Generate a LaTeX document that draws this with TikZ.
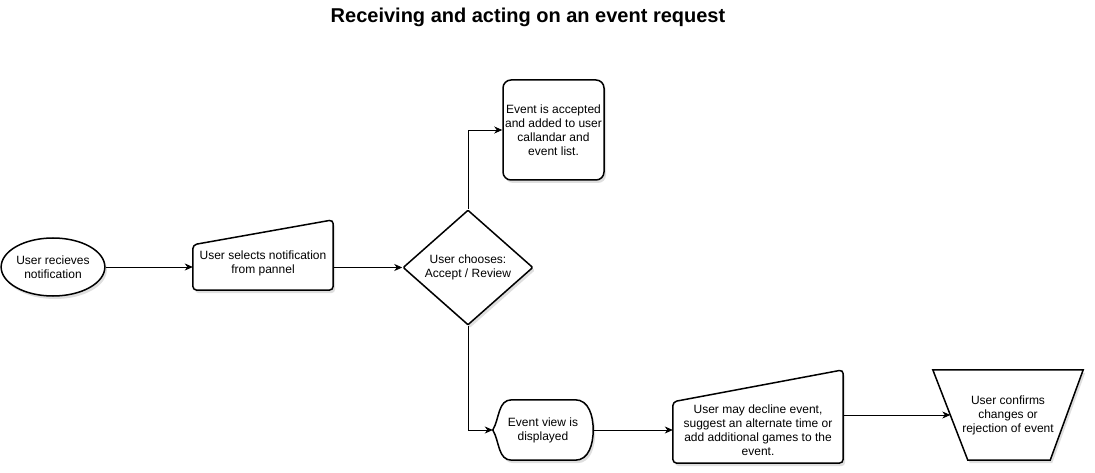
\documentclass[tikz,border=0pt]{standalone}
\usepackage{fontspec}
\setmainfont{Liberation Sans}
\usetikzlibrary{shapes.geometric,shadows,arrows.meta,backgrounds}

\begin{document}
\begin{tikzpicture}[x=1pt, y=-1pt,
    txt/.style={align=center, font=\fontsize{12}{14}\selectfont, inner sep=0pt},
    outline/.style={draw, line width=1.5pt, fill=white, rounded corners=4pt,
                drop shadow={opacity=0.25, shadow xshift=2pt, shadow yshift=-3pt}},
    arr/.style={-{Stealth[length=8pt,width=7pt,inset=2.5pt]}, line width=0.8pt},
]
\useasboundingbox (0,0) rectangle (1095,473);

\node[font=\bfseries\fontsize{20}{24}\selectfont] (title) at (528,17)
    {Receiving and acting on an event request};

% nodes
\node[txt, ellipse, outline, minimum width=101pt, minimum height=58pt] (recv) at (53,267)
    {User recieves\\notification};
\node[txt, minimum width=140pt, minimum height=54pt] (sel) at (263,263)
    {User selects notification\\from pannel};
\node[txt, diamond, outline, rounded corners=1pt, minimum width=130pt, minimum height=115pt] (choose) at (468,267.5)
    {User chooses:\\Accept / Review};
\node[txt, outline, rounded corners=8pt, minimum width=101pt, minimum height=100pt] (acc) at (553.5,130)
    {Event is accepted\\and added to user\\callandar and\\event list.};
\node[txt, minimum width=100pt, minimum height=60pt] (disp) at (543,430)
    {Event view is\\displayed};
\node[txt, minimum width=170pt, minimum height=66pt] (dec) at (758,430)
    {User may decline event,\\suggest an alternate time or\\add additional games to the\\event.};
\node[txt, minimum width=150pt, minimum height=90pt] (conf) at (1008,415)
    {User confirms\\changes or\\rejection of event};
\coordinate (confin) at ([xshift=17.5pt]conf.west);

% shapes behind the text
\begin{scope}[on background layer]
\fill[white] (0,0) rectangle (1095,473);
\draw[outline] ([yshift=-9pt]sel.north west) -- ([yshift=16pt]sel.north east)
    -- (sel.south east) -- (sel.south west) -- cycle;
\draw[outline, rounded corners=0pt] (disp.west) to[out=60,in=180] ([xshift=19pt]disp.north west)
    -- ([xshift=-18pt]disp.north east) to[out=0,in=90] (disp.east)
    to[out=-90,in=0] ([xshift=-18pt]disp.south east)
    -- ([xshift=19pt]disp.south west) to[out=180,in=-60] (disp.west) -- cycle;
\draw[outline] ([yshift=-5pt]dec.north west) -- ([yshift=27pt]dec.north east)
    -- (dec.south east) -- (dec.south west) -- cycle;
\draw[outline, rounded corners=0pt] (conf.north west) -- (conf.north east)
    -- ([xshift=-33pt]conf.south east) -- ([xshift=35pt]conf.south west) -- cycle;
\end{scope}

% connectors
\draw[arr] (recv.east) -- (recv.east -| sel.west);
\draw[arr] (sel.east |- choose.west) -- (choose.west);
\draw[arr] (choose.north) |- (acc.west);
\draw[arr] (choose.south) |- (disp.west);
\draw[arr] (disp.east) -- (disp.east -| dec.west);
\draw[arr] (dec.east |- confin) -- (confin);
\end{tikzpicture}
\end{document}
